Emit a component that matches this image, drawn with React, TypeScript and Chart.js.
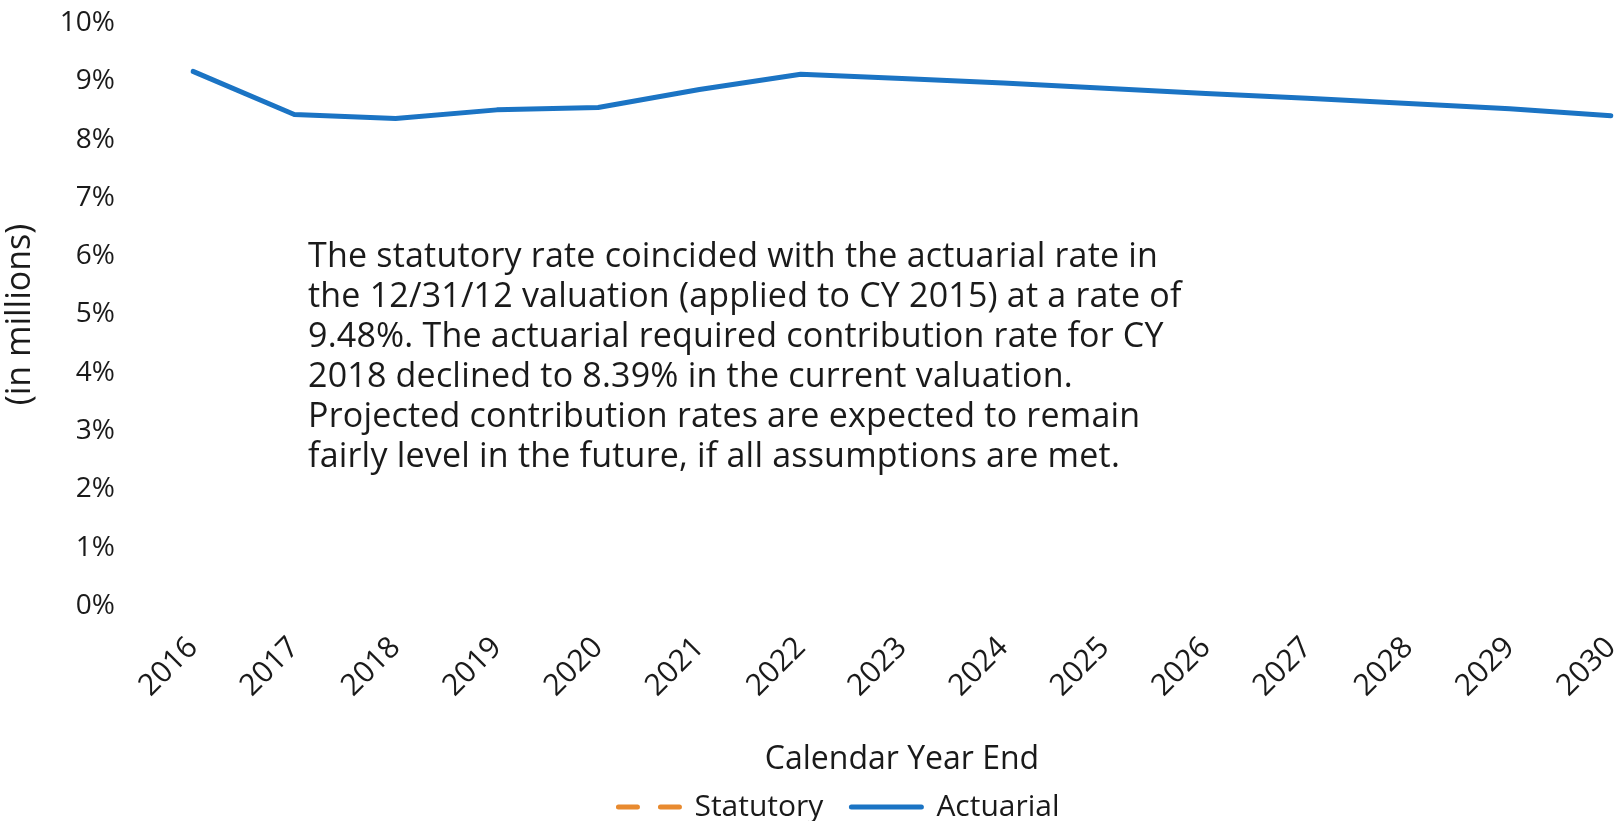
import { useEffect, useRef } from "react";
import { Chart, registerables } from "chart.js";

Chart.register(...registerables);

const years = ["2016", "2017", "2018", "2019", "2020", "2021", "2022", "2023", "2024", "2025", "2026", "2027", "2028", "2029", "2030"];
const actuarialRates = [9.17, 8.43, 8.36, 8.51, 8.55, 8.86, 9.12, 9.05, 8.97, 8.88, 8.79, 8.71, 8.62, 8.53, 8.41];
// The statutory line is not visible in the reference (only its legend entry)
const statutoryRates = [null, null, null, null, null, null, null, null, null, null, null, null, null, null, null];
const yTickLabels = ["0%", "1%", "2%", "3%", "4%", "5%", "6%", "7%", "8%", "9%", "10%"];
const annotationLines = [
  "The statutory rate coincided with the actuarial rate in",
  "the 12/31/12 valuation (applied to CY 2015) at a rate of",
  "9.48%. The actuarial required contribution rate for CY",
  "2018 declined to 8.39% in the current valuation.",
  "Projected contribution rates are expected to remain",
  "fairly level in the future, if all assumptions are met.",
];

const FONT = "'Open Sans', 'Noto Sans', sans-serif";
const TEXT = "#1a1a1a";
const BLUE = "#1b74c4";
const ORANGE = "#e88a2f";

const legendShift = {
  id: "legendShift",
  afterUpdate(chart: any) {
    const l = chart.legend;
    if (l) {
      l.left += 29;
      l.right += 29;
    }
  },
};

export default function App() {
  const ref = useRef<HTMLCanvasElement | null>(null);

  useEffect(() => {
    document.body.style.margin = "0";
    document.body.style.overflow = "hidden";
    if (!ref.current) return;
    const chart = new Chart(ref.current, {
      type: "line",
      data: {
        labels: years,
        datasets: [
          {
            label: "Statutory",
            data: statutoryRates as any,
            borderColor: ORANGE,
            backgroundColor: ORANGE,
            borderWidth: 5,
            borderDash: [19, 23],
            borderCapStyle: "round",
            pointRadius: 0,
            fill: false,
          },
          {
            label: "Actuarial",
            data: actuarialRates,
            borderColor: BLUE,
            backgroundColor: BLUE,
            borderWidth: 5,
            borderCapStyle: "round",
            borderJoinStyle: "round",
            tension: 0,
            pointRadius: 0,
            fill: false,
          },
        ],
      },
      options: {
        animation: false,
        responsive: true,
        maintainAspectRatio: false,
        layout: { padding: { left: 0, right: 8, top: 23, bottom: -11 } },
        plugins: {
          tooltip: { enabled: false },
          legend: {
            position: "bottom",
            labels: {
              usePointStyle: true,
              pointStyle: "line",
              pointStyleWidth: 70,
              padding: 28,
              color: TEXT,
              font: { family: FONT, size: 30 },
              generateLabels: (c: any) => {
                const items = (Chart.defaults as any).plugins.legend.labels.generateLabels(c);
                items.forEach((it: any) => {
                  const ds: any = c.data.datasets[it.datasetIndex];
                  it.lineDash = ds.borderDash || [];
                  it.lineDashOffset = ds.borderDash ? 33 : 0;
                  it.lineCap = "round";
                  it.lineWidth = 5;
                  it.strokeStyle = ds.borderColor;
                  it.fillStyle = ds.borderColor;
                });
                return items;
              },
            },
          },
        },
        scales: {
          x: {
            offset: false,
            grid: { display: false, drawTicks: false },
            border: { display: false },
            ticks: {
              minRotation: 45,
              maxRotation: 45,
              padding: 24,
              color: TEXT,
              autoSkip: false,
              font: { family: FONT, size: 30 },
            },
            title: {
              display: true,
              text: "Calendar Year End",
              color: TEXT,
              font: { family: FONT, size: 32 },
              padding: { top: 0, bottom: -15 },
            },
            afterFit(scale: any) {
              scale.height = 158;
              scale.paddingLeft = 0;
              scale.paddingRight = 0;
            },
          },
          y: {
            min: 0,
            max: 10,
            grid: { display: false, drawTicks: false },
            border: { display: false },
            ticks: {
              stepSize: 1,
              padding: 78,
              color: TEXT,
              font: { family: FONT, size: 28 },
              callback: (_v: any, i: number) => yTickLabels[i],
            },
            title: {
              display: true,
              text: "(in millions)",
              color: TEXT,
              font: { family: FONT, size: 34 },
              padding: { top: 0, bottom: 0 },
            },
            afterFit(scale: any) {
              scale.width = 193;
              scale.paddingTop = 0;
              scale.paddingBottom = 0;
            },
          },
        },
      },
      plugins: [legendShift],
    });
    return () => chart.destroy();
  }, []);

  return (
    <div style={{ position: "relative", width: 1619, height: 821, background: "#fff" }}>
      <canvas ref={ref} />
      <div
        style={{
          position: "absolute",
          left: 308,
          top: 234,
          fontFamily: FONT,
          fontSize: 34,
          lineHeight: "40px",
          letterSpacing: "0.2px",
          color: TEXT,
          whiteSpace: "nowrap",
          pointerEvents: "none",
        }}
      >
        {annotationLines.map((t, i) => (
          <div key={i}>{t}</div>
        ))}
      </div>
    </div>
  );
}
